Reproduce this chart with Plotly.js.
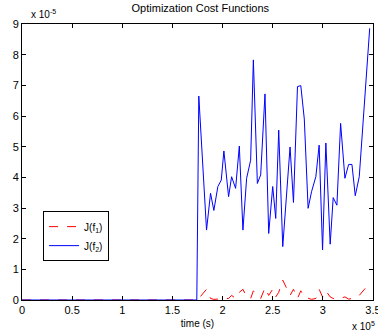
<!DOCTYPE html>
<html><head><meta charset="utf-8">
<script src="https://cdn.plot.ly/plotly-3.0.1.min.js"></script>
<style>html,body{margin:0;padding:0;background:#fff}#chart{width:378px;height:333px}</style>
</head><body><div id="chart"></div>
<script>
// time (s)
const timeS = [0, 174300, 176300, 184000, 188000, 191300, 195300, 198700, 201300, 206000, 209000, 213000, 216700, 220300, 224000, 228000, 230700, 234700, 238000, 242300, 246000, 250000, 253000, 256000, 260000, 267300, 270700, 274700, 278000, 281500, 285300, 288700, 293000, 296300, 299700, 303000, 307300, 310300, 314000, 317700, 322000, 325700, 329000, 332300, 336300, 346700];
// J(f2) values
const jf2 = [0, 0, 6.65e-5, 2.28e-5, 3.48e-5, 2.92e-5, 3.70e-5, 3.91e-5, 4.86e-5, 3.37e-5, 4.02e-5, 3.64e-5, 5.02e-5, 2.28e-5, 3.97e-5, 4.56e-5, 7.83e-5, 3.80e-5, 4.08e-5, 6.72e-5, 2.17e-5, 3.70e-5, 2.66e-5, 5.54e-5, 1.74e-5, 4.99e-5, 3.18e-5, 6.96e-5, 6.99e-5, 5.9e-5, 2.99e-5, 3.53e-5, 4.02e-5, 5.05e-5, 1.63e-5, 5.12e-5, 1.82e-5, 3.34e-5, 3.09e-5, 5.76e-5, 3.97e-5, 4.42e-5, 4.42e-5, 3.40e-5, 4.02e-5, 8.86e-5];
// J(f1) values
const jf1 = [0, 0, 0.05e-5, 0.35e-5, 0.05e-5, 0.02e-5, 0.03e-5, 0.02e-5, 0.05e-5, 0.05e-5, 0.15e-5, 0.05e-5, 0.25e-5, 0.35e-5, 0.1e-5, 0.05e-5, 0.3e-5, 0.15e-5, 0.05e-5, 0.4e-5, 0.15e-5, 0.35e-5, 0.1e-5, 0.25e-5, 0.65e-5, 0.15e-5, 0.35e-5, 0.05e-5, 0.3e-5, 0.1e-5, 0.05e-5, 0.02e-5, 0.05e-5, 0.35e-5, 0.1e-5, 0.3e-5, 0.1e-5, 0.05e-5, 0.02e-5, 0.05e-5, 0.1e-5, 0.03e-5, 0.05e-5, 0.1e-5, 0.15e-5, 0.55e-5];
const xTickVals = [0, 50000, 100000, 150000, 200000, 250000, 300000, 350000];
const xTickText = ['0', '0.5', '1', '1.5', '2', '2.5', '3', '3.5'];
const yTickVals = [0, 1e-5, 2e-5, 3e-5, 4e-5, 5e-5, 6e-5, 7e-5, 8e-5, 9e-5];
const yTickText = ['0', '1', '2', '3', '4', '5', '6', '7', '8', '9'];

const font = {family: 'Liberation Sans, Arial, sans-serif', size: 11, color: '#000'};
const traces = [
  {x: timeS, y: jf1, type: 'scatter', mode: 'lines', name: 'J(f<sub>1</sub>)',
   line: {color: '#ff0000', width: 1, dash: 'dash'}},
  {x: timeS, y: jf2, type: 'scatter', mode: 'lines', name: 'J(f<sub>2</sub>)',
   line: {color: '#0000ff', width: 1}}
];
const axisCommon = {showgrid: false, zeroline: false, showline: true, linecolor: '#000', linewidth: 1,
  mirror: 'ticks', ticks: 'inside', ticklen: 4, tickcolor: '#000', tickfont: font};
const layout = {
  width: 378, height: 333,
  margin: {l: 22, r: 5, t: 24, b: 33},
  paper_bgcolor: '#fff', plot_bgcolor: '#fff',
  font: font,
  title: {text: 'Optimization Cost Functions', font: {family: font.family, size: 11, color: '#000'}, x: 0.53, xanchor: 'center', y: 0.975, yanchor: 'middle'},
  xaxis: Object.assign({}, axisCommon, {range: [0, 350000], tickmode: 'array', tickvals: xTickVals, ticktext: xTickText,
    ticklabeloverflow: 'allow',
    title: {text: 'time (s)', font: {family: font.family, size: 10, color: '#000'}, standoff: 4}}),
  yaxis: Object.assign({}, axisCommon, {range: [0, 9e-5], tickmode: 'array', tickvals: yTickVals, ticktext: yTickText}),
  showlegend: true,
  legend: {x: 0.06, y: 0.322, xanchor: 'left', yanchor: 'top', bgcolor: '#fff', bordercolor: '#000', borderwidth: 1,
    font: {family: font.family, size: 10, color: '#000'}, tracegroupgap: 0, itemwidth: 30},
  annotations: [
    {xref: 'paper', yref: 'paper', x: 0.02, y: 1, xanchor: 'left', yanchor: 'bottom', yshift: 2, showarrow: false,
     text: 'x 10<sup>-5</sup>', font: {family: font.family, size: 10, color: '#000'}},
    {xref: 'paper', yref: 'paper', x: 1, y: 0, xanchor: 'right', yanchor: 'top', yshift: -18, xshift: 4, showarrow: false,
     text: 'x 10<sup>5</sup>', font: {family: font.family, size: 10, color: '#000'}}
  ]
};
Plotly.newPlot('chart', traces, layout, {displayModeBar: false, staticPlot: true});
</script></body></html>
